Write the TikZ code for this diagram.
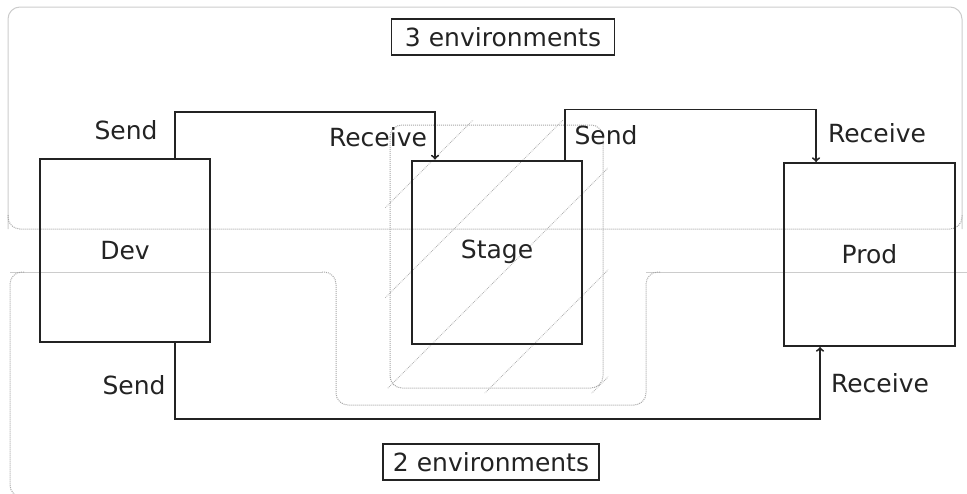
\documentclass[tikz,border=0pt]{standalone}
\usepackage{fontspec}
\setmainfont{DejaVu Sans}
\usepackage{xcolor}
\definecolor{ink}{RGB}{35, 35, 35}
\usepackage{tikz}
\usetikzlibrary{arrows,calc}
\tikzstyle{box} = [draw=ink,line width=2pt,minimum width=170pt,minimum height=183pt,inner sep=0pt,text=ink,font=\fontsize{25}{30}\selectfont]
\tikzstyle{lbl} = [anchor=base,text=ink,font=\fontsize{25}{30}\selectfont]
\tikzstyle{tag} = [draw=ink,line width=1.6pt,inner sep=0pt,minimum height=36pt,text=ink,font=\fontsize{25}{30}\selectfont]
\tikzstyle{flow} = [->,draw=ink,line width=1.9pt]
\tikzstyle{env} = [draw=gray!40,line width=1pt,rounded corners=12pt]
\tikzstyle{envdot} = [draw=gray!70,line width=1pt,densely dotted,rounded corners=12pt]
\tikzstyle{hatch} = [draw=gray!60,line width=0.8pt,densely dotted]

\begin{document}
\begin{tikzpicture}[x=1pt,y=-1pt]
    \useasboundingbox (0,0) rectangle (967,493);
    \path[env] (8,229) -- (8,7) -- (962,7) -- (962,229);
    \path[envdot] (8,215) -- (8,229) -- (962,229) -- (962,215);
    \path[env] (980,272) -- (646,272);
    \path[envdot] (660,272) -- (646,272) -- (646,405) -- (336,405) -- (336,272) -- (322,272);
    \path[env] (322,272) -- (10,272);
    \path[envdot] (24,272) -- (10,272) -- (10,497) -- (980,497);
    \path[envdot] (390,125) rectangle (603,388);
    \begin{scope}
        \clip[rounded corners=12pt] (385,120) rectangle (608,393);
        \foreach \c in {593,683,776,878,985} {
            \path[hatch] (300,{\c-300}) -- (700,{\c-700});
        }
    \end{scope}
    \node[tag,minimum width=223pt] (three) at (503,37) {3 environments};
    \node[tag,minimum width=216pt] (two) at (491,462) {2 environments};
    \node[box] (dev) at (125,250.5) {Dev};
    \node[box] (stage) at (497,252) {Stage};
    \node[box,minimum width=171pt] (prod) at (869.5,254.5) {Prod};
    \draw[flow] ([xshift=136pt]dev.north west) -- ++(0,-46) -| ([xshift=24pt]stage.north west);
    \draw[flow] ([xshift=154pt]stage.north west) -- ++(0,-50) -| ([xshift=33pt]prod.north west);
    \draw[flow] ([xshift=136pt]dev.south west) -- ++(0,76) -| ([xshift=37pt]prod.south west);
    \node[lbl] (send1) at (126,139) {Send};
    \node[lbl] (recv1) at (378,146) {Receive};
    \node[lbl] (send2) at (606,144) {Send};
    \node[lbl] (recv2) at (877,142) {Receive};
    \node[lbl] (send3) at (134,394) {Send};
    \node[lbl] (recv3) at (880,392) {Receive};
\end{tikzpicture}
\end{document}
